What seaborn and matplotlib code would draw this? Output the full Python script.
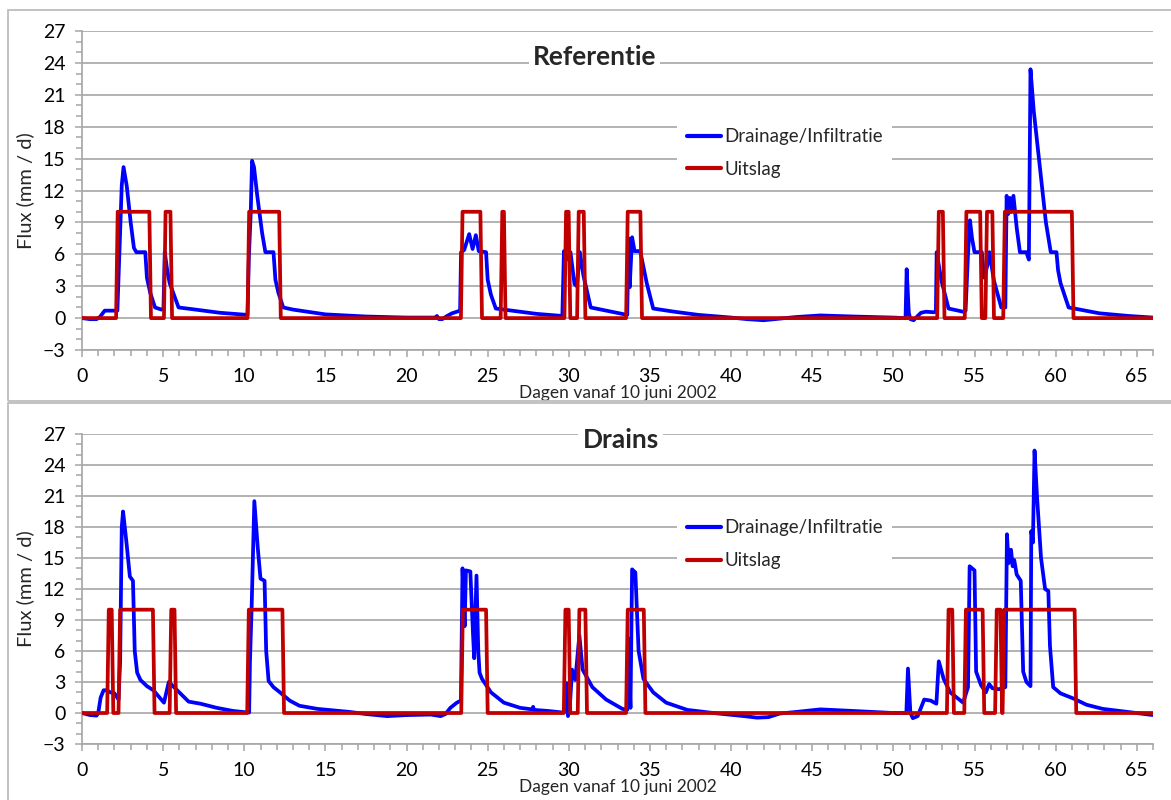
import numpy as np
import pandas as pd
import matplotlib
matplotlib.use("Agg")
import matplotlib.pyplot as plt
import seaborn as sns
from matplotlib.lines import Line2D
from matplotlib.patches import Rectangle
from matplotlib.ticker import MultipleLocator

# ---------------- data ----------------
# Referentie - Drainage/Infiltratie (day, mm/d)
ref_dag = [0, 0.5, 0.9, 1.1, 1.4, 2.18, 2.3, 2.45, 2.56, 2.76, 3.0, 3.2, 3.35, 3.9, 4.0, 4.2, 4.5, 4.9,
           5.02, 5.1, 5.25, 5.4, 5.95, 7.0, 8.5, 10.2, 10.28, 10.4, 10.48, 10.6, 10.8, 11.1, 11.3, 11.8,
           11.92, 12.1, 12.4, 13.0, 15.0, 17.5, 20.0, 21.8, 21.87, 22.0, 22.2, 22.5, 22.8, 23.3, 23.36,
           23.55, 23.86, 24.07, 24.27, 24.45, 24.9, 25.0, 25.2, 25.5, 26.5, 28.0, 29.6, 29.7, 29.85,
           30.1, 30.35, 30.5, 30.68, 30.9, 31.35, 33.6, 33.68, 33.75, 33.9, 34.05, 34.4, 34.8, 35.2,
           36.5, 38.0, 40.0, 41.0, 42.0, 43.0, 44.0, 45.5, 47.5, 50.0, 50.75, 50.82, 50.95, 51.05,
           51.25, 51.5, 51.7, 52.0, 52.5, 52.62, 52.67, 52.85, 53.0, 53.4, 54.3, 54.45, 54.6, 54.72,
           54.85, 55.0, 55.45, 55.6, 55.8, 55.92, 56.2, 56.65, 56.9, 56.98, 57.08, 57.18, 57.25, 57.4,
           57.6, 57.8, 58.2, 58.35, 58.45, 58.65, 58.97, 59.4, 59.7, 60.05, 60.15, 60.3, 60.8, 62.7,
           64.5, 66.0]
ref_flux = [0, -0.1, -0.1, 0.1, 0.7, 0.7, 6.0, 12.5, 14.2, 12.4, 9.0, 6.6, 6.2, 6.2, 3.8, 2.4, 1.0, 0.8,
            0.9, 6.2, 4.5, 3.3, 1.0, 0.8, 0.5, 0.3, 5.6, 10.0, 14.8, 14.2, 11.5, 8.0, 6.2, 6.2,
            3.6, 2.4, 1.0, 0.8, 0.35, 0.15, 0.05, 0.05, 0.2, -0.1, -0.1, 0.2, 0.45, 0.7, 6.2,
            6.4, 7.9, 6.5, 7.8, 6.3, 6.2, 3.6, 2.2, 0.9, 0.7, 0.4, 0.2, 6.3, 5.5,
            6.2, 3.2, 3.0, 6.2, 4.0, 1.0, 0.3, 7.5, 2.9, 7.6, 6.3, 6.3, 3.3, 0.9,
            0.6, 0.3, 0.05, -0.1, -0.2, -0.05, 0.1, 0.25, 0.15, 0.05, 0.0, 4.6, 0.5, -0.1,
            -0.2, 0.2, 0.5, 0.6, 0.55, 0.6, 6.2, 4.5, 3.3, 0.9, 0.6, 0.7, 6.0, 9.2,
            7.5, 6.2, 6.2, 3.8, 5.0, 6.2, 3.5, 1.0, 1.0, 11.5, 9.8, 11.3, 10.0, 11.5,
            8.5, 6.2, 6.2, 5.5, 23.4, 19.5, 15.0, 9.0, 6.2, 6.2, 4.5, 3.3, 1.0, 0.45,
            0.2, 0.05]
# Referentie - Uitslag (pump on/off days)
ref_uit_aan = [2.15, 5.1, 10.25, 23.4, 25.85, 29.78, 30.56, 33.58, 52.75, 54.45, 55.72, 56.82]
ref_uit_uit = [4.2, 5.5, 12.2, 24.6, 26.05, 30.04, 30.97, 34.46, 53.1, 55.4, 56.15, 61.05]

# Drains - Drainage/Infiltratie
dr_dag = [0, 0.5, 0.9, 1.0, 1.15, 1.33, 1.5, 1.75, 2.0, 2.25, 2.35, 2.45, 2.53, 2.74, 2.95, 3.14,
          3.25, 3.4, 3.6, 4.0, 4.4, 5.05, 5.2, 5.35, 6.06, 6.57, 7.3, 8.3, 9.3, 10.2, 10.3, 10.35,
          10.45, 10.62, 10.83, 11.0, 11.25, 11.35, 11.5, 11.8, 12.2, 12.8, 13.4, 14.5, 16.5, 17.5,
          18.8, 20.0, 21.5, 22.1, 22.4, 22.7, 23.1, 23.35, 23.45, 23.58, 23.66, 23.93, 24.1, 24.17,
          24.31, 24.42, 24.5, 24.65, 25.2, 26.0, 27.0, 27.75, 27.8, 27.85, 28.7, 29.6, 29.75, 29.85,
          29.95, 30.05, 30.2, 30.4, 30.65, 30.85, 31.45, 32.3, 33.3, 33.6, 33.65, 33.8, 33.9, 34.1,
          34.3, 34.6, 35.2, 36.0, 37.3, 38.9, 40.8, 41.6, 42.3, 43.0, 44.0, 45.5, 47.5, 50.0, 50.8,
          50.9, 51.05, 51.2, 51.5, 51.9, 52.3, 52.65, 52.8, 53.1, 53.5, 54.3, 54.6, 54.7, 55.0, 55.1,
          55.4, 55.7, 55.9, 56.1, 56.5, 56.9, 57.0, 57.1, 57.25, 57.35, 57.45, 57.6, 57.85, 58.0,
          58.2, 58.45, 58.5, 58.6, 58.7, 58.85, 59.1, 59.35, 59.55, 59.65, 59.85, 60.3, 61.1, 61.9,
          62.9, 65.0, 66.0]
dr_flux = [0, -0.2, -0.25, 0.0, 1.5, 2.2, 2.2, 2.0, 1.9, 1.3, 5.0, 18.0, 19.5, 16.5, 13.2, 12.8,
           6.0, 3.9, 3.2, 2.6, 2.2, 1.0, 2.0, 3.0, 1.9, 1.1, 0.9, 0.5, 0.2, 0.05, 0.05, 5.0,
           10.0, 20.5, 16.0, 13.0, 12.8, 6.0, 3.1, 2.5, 2.0, 1.2, 0.7, 0.4, 0.1, -0.1,
           -0.3, -0.2, -0.15, -0.3, -0.1, 0.5, 1.0, 1.2, 14.0, 8.4, 13.8, 13.7, 7.5, 5.3,
           13.3, 6.0, 3.9, 3.3, 2.0, 1.0, 0.5, 0.35, 0.6, 0.3, 0.2, 0.05, 0.1, 2.9,
           -0.3, 0.3, 4.2, 3.2, 7.5, 4.2, 2.5, 1.3, 0.4, 0.3, 7.2, 0.5, 13.9, 13.6,
           6.0, 3.3, 2.0, 1.0, 0.3, 0.0, -0.3, -0.45, -0.4, -0.05, 0.1, 0.35, 0.2, 0.0, 0.0,
           4.3, 0.0, -0.5, -0.3, 1.3, 1.2, 0.9, 5.0, 3.3, 2.0, 1.0, 2.5, 14.2, 13.8, 4.0,
           2.7, 2.0, 2.8, 2.4, 2.3, 2.5, 17.3, 14.5, 15.8, 14.2, 14.8, 13.4, 12.8, 4.0,
           3.0, 2.6, 17.6, 16.5, 25.4, 21.0, 15.0, 12.0, 11.8, 6.5, 2.5, 1.9, 1.4, 0.8,
           0.4, 0.0, -0.2]
# Drains - Uitslag
dr_uit_aan = [1.6, 2.3, 5.45, 10.23, 23.42, 29.74, 30.6, 33.58, 53.35, 54.42, 56.32, 56.78]
dr_uit_uit = [1.88, 4.42, 5.75, 12.4, 24.95, 30.04, 31.07, 34.67, 53.68, 55.55, 56.65, 61.22]

uitslag_niveau = 10.0
titels = ["Referentie", "Drains"]
reeksen = ["Drainage/Infiltratie", "Uitslag"]
y_ticks = [-3, 0, 3, 6, 9, 12, 15, 18, 21, 24, 27]
x_ticks = [0, 5, 10, 15, 20, 25, 30, 35, 40, 45, 50, 55, 60, 65]
x_label = "Dagen vanaf 10 juni 2002"
y_label = "Flux (mm / d)"

# ---------------- helpers ----------------
def uitslag_frame(aan, uit, niveau, eind=66.0, ramp=0.05):
    xs, ys = [0.0], [0.0]
    for s, e in zip(aan, uit):
        xs += [s - ramp, s + ramp, e - ramp, e + ramp]
        ys += [0.0, niveau, niveau, 0.0]
    xs.append(eind); ys.append(0.0)
    return pd.DataFrame({"dag": xs, "flux": ys, "reeks": reeksen[1]})

def panel_frame(dag, flux, aan, uit):
    d1 = pd.DataFrame({"dag": dag, "flux": flux, "reeks": reeksen[0]})
    d2 = uitslag_frame(aan, uit, uitslag_niveau)
    return pd.concat([d1, d2], ignore_index=True)

# ---------------- style ----------------
sns.set_style("white")
plt.rcParams['font.family'] = ['Lato', 'DejaVu Sans']

BLUE = "#0000FF"
RED = "#C00000"
GRID = "#A6A6A6"
palette = {reeksen[0]: BLUE, reeksen[1]: RED}

W, H = 1171, 800
fig = plt.figure(figsize=(W / 100, H / 100), dpi=100)

def rect(l, r, t, b):
    return [l / W, 1 - b / H, (r - l) / W, (b - t) / H]

# panel frames
fig.add_artist(Rectangle((7.5 / W, 1 - 401 / H), 1.2, 391 / H, transform=fig.transFigure,
                         fill=False, edgecolor="#BDBDBD", linewidth=1.3))
fig.add_artist(Rectangle((7.5 / W, -0.1), 1.2, 1 - 403 / H + 0.1, transform=fig.transFigure,
                         fill=False, edgecolor="#BDBDBD", linewidth=1.3))

ax1 = fig.add_axes(rect(82, 1153, 31, 350))
ax2 = fig.add_axes(rect(82, 1153, 434, 744))

panels = [
    (ax1, panel_frame(ref_dag, ref_flux, ref_uit_aan, ref_uit_uit), titels[0], (0.4785, 0.918), (0.556, 0.725)),
    (ax2, panel_frame(dr_dag, dr_flux, dr_uit_aan, dr_uit_uit), titels[1], (0.503, 0.982), (0.556, 0.755)),
]

for ax, df, titel, tpos, lpos in panels:
    sns.lineplot(data=df, x="dag", y="flux", hue="reeks", palette=palette, sort=False,
                 estimator=None, linewidth=2.7, legend=False, ax=ax, zorder=3)
    ax.set_xlim(0, 66)
    ax.set_ylim(-3, 27)
    ax.set_yticks(y_ticks)
    ax.set_xticks(x_ticks)
    ax.xaxis.set_minor_locator(MultipleLocator(1))
    ax.yaxis.set_minor_locator(MultipleLocator(1))
    ax.grid(axis="y", which="major", color=GRID, linewidth=1.2, zorder=0)
    ax.grid(axis="x", visible=False)
    ax.set_axisbelow(True)
    for s in ["top", "right"]:
        ax.spines[s].set_visible(False)
    for s in ["left", "bottom"]:
        ax.spines[s].set_color(GRID)
        ax.spines[s].set_linewidth(1.2)
    ax.tick_params(axis="both", which="both", bottom=True, left=True, direction="out",
                   color=GRID, width=1.1)
    ax.tick_params(axis="both", which="major", length=5, labelsize=14, labelcolor="black")
    ax.tick_params(axis="both", which="minor", length=4)
    ax.tick_params(axis="y", which="major", pad=7)
    ax.tick_params(axis="x", which="major", pad=8)
    ax.set_xlabel(x_label, fontsize=12.5, labelpad=0)
    ax.set_ylabel(y_label, fontsize=14.5, labelpad=6)
    ax.text(tpos[0], tpos[1], titel, transform=ax.transAxes, ha="center", va="center",
            fontsize=19, fontweight="bold", zorder=5,
            bbox=dict(facecolor="white", edgecolor="none", pad=3))
    handles = [Line2D([0], [0], color=BLUE, linewidth=3), Line2D([0], [0], color=RED, linewidth=3)]
    leg = ax.legend(handles, reeksen, loc="upper left", bbox_to_anchor=lpos, frameon=True,
                    fontsize=13.5, handlelength=1.8, handletextpad=0.2, labelspacing=0.85,
                    borderpad=0.5, borderaxespad=0)
    leg.get_frame().set_facecolor("white")
    leg.get_frame().set_edgecolor("none")
    leg.get_frame().set_alpha(1.0)
    leg.set_zorder(6)

fig.savefig("out.png", dpi=100)
